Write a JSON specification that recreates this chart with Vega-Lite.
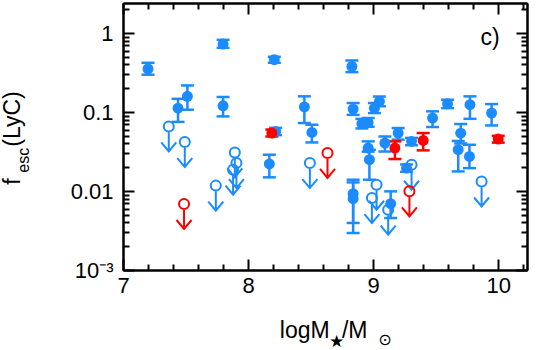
{
  "$schema": "https://vega.github.io/schema/vega-lite/v6.json",
  "width": 404,
  "height": 267,
  "autosize": {"type": "none"},
  "padding": {"left": 123, "top": 3, "right": 11, "bottom": 80},
  "background": "white",
  "config": {
    "view": {"stroke": null},
    "axis": {"domainColor": "black", "domainWidth": 2, "tickColor": "black", "tickWidth": 2, "labelFont": "Liberation Sans", "labelFontSize": 22, "labelColor": "black", "grid": false, "labelOverlap": false, "labelFlush": false, "title": null}
  },
  "datasets": {
    "pts": [
      {"x": 7.2, "y": 0.353, "lo": 0.297, "hi": 0.42, "g": "blue"},
      {"x": 7.44, "y": 0.112, "lo": 0.075, "hi": 0.147, "g": "blue"},
      {"x": 7.515, "y": 0.158, "lo": 0.107, "hi": 0.217, "g": "blue"},
      {"x": 7.8, "y": 0.726, "lo": 0.65, "hi": 0.82, "g": "blue"},
      {"x": 7.8, "y": 0.12, "lo": 0.088, "hi": 0.155, "g": "blue"},
      {"x": 8.21, "y": 0.459, "lo": 0.42, "hi": 0.5, "g": "blue"},
      {"x": 8.83, "y": 0.378, "lo": 0.32, "hi": 0.45, "g": "blue"},
      {"x": 8.45, "y": 0.116, "lo": 0.0726, "hi": 0.158, "g": "blue"},
      {"x": 8.51, "y": 0.0552, "lo": 0.0412, "hi": 0.069, "g": "blue"},
      {"x": 8.22, "y": 0.0568, "lo": 0.051, "hi": 0.063, "g": "blue"},
      {"x": 8.17, "y": 0.022, "lo": 0.0149, "hi": 0.0288, "g": "blue"},
      {"x": 8.84, "y": 0.109, "lo": 0.092, "hi": 0.13, "g": "blue"},
      {"x": 8.91, "y": 0.0711, "lo": 0.062, "hi": 0.082, "g": "blue"},
      {"x": 8.96, "y": 0.0738, "lo": 0.065, "hi": 0.084, "g": "blue"},
      {"x": 9.01, "y": 0.112, "lo": 0.097, "hi": 0.13, "g": "blue"},
      {"x": 9.05, "y": 0.136, "lo": 0.118, "hi": 0.157, "g": "blue"},
      {"x": 8.84, "y": 0.00925, "lo": 0.00394, "hi": 0.0139, "g": "blue"},
      {"x": 8.84, "y": 0.008, "lo": 0.00294, "hi": 0.01285, "g": "blue"},
      {"x": 8.96, "y": 0.035, "lo": 0.0315, "hi": 0.0425, "g": "blue"},
      {"x": 8.97, "y": 0.0249, "lo": 0.0139, "hi": 0.0333, "g": "blue"},
      {"x": 9.094, "y": 0.0405, "lo": 0.0316, "hi": 0.049, "g": "blue"},
      {"x": 9.2, "y": 0.0542, "lo": 0.0447, "hi": 0.0627, "g": "blue"},
      {"x": 9.307, "y": 0.0425, "lo": 0.038, "hi": 0.047, "g": "blue"},
      {"x": 9.267, "y": 0.0195, "lo": 0.0175, "hi": 0.0217, "g": "blue"},
      {"x": 9.475, "y": 0.084, "lo": 0.0646, "hi": 0.102, "g": "blue"},
      {"x": 9.595, "y": 0.127, "lo": 0.112, "hi": 0.143, "g": "blue"},
      {"x": 9.774, "y": 0.124, "lo": 0.082, "hi": 0.158, "g": "blue"},
      {"x": 9.947, "y": 0.097, "lo": 0.0676, "hi": 0.126, "g": "blue"},
      {"x": 9.7, "y": 0.054, "lo": 0.04, "hi": 0.0705, "g": "blue"},
      {"x": 9.68, "y": 0.0333, "lo": 0.0177, "hi": 0.043, "g": "blue"},
      {"x": 9.77, "y": 0.0274, "lo": 0.0195, "hi": 0.0385, "g": "blue"},
      {"x": 9.14, "y": 0.0069, "lo": 0.00455, "hi": 0.0099, "g": "blue"},
      {"x": 8.19, "y": 0.0542, "lo": 0.049, "hi": 0.06, "g": "red"},
      {"x": 9.174, "y": 0.035, "lo": 0.0254, "hi": 0.0425, "g": "red"},
      {"x": 9.4, "y": 0.0437, "lo": 0.0327, "hi": 0.0542, "g": "red"},
      {"x": 10.0, "y": 0.0455, "lo": 0.041, "hi": 0.05, "g": "red"}
    ],
    "lims": [
      {"x": 7.366, "y": 0.0657, "g": "blue"},
      {"x": 7.494, "y": 0.0417, "g": "blue"},
      {"x": 7.742, "y": 0.0117, "g": "blue"},
      {"x": 7.894, "y": 0.0308, "g": "blue"},
      {"x": 7.907, "y": 0.0226, "g": "blue"},
      {"x": 7.88, "y": 0.0186, "g": "blue"},
      {"x": 8.494, "y": 0.0226, "g": "blue"},
      {"x": 9.027, "y": 0.012, "g": "blue"},
      {"x": 8.99, "y": 0.00815, "g": "blue"},
      {"x": 9.12, "y": 0.0058, "g": "blue"},
      {"x": 9.307, "y": 0.0215, "g": "blue"},
      {"x": 9.867, "y": 0.0132, "g": "blue"},
      {"x": 7.488, "y": 0.00685, "g": "red"},
      {"x": 8.635, "y": 0.0303, "g": "red"},
      {"x": 9.29, "y": 0.0099, "g": "red"}
    ]
  },
  "resolve": {"axis": {"x": "independent", "y": "independent"}},
  "layer": [
    {
      "data": {"name": "pts"},
      "mark": {"type": "errorbar", "thickness": 2.5, "opacity": 1, "rule": {"opacity": 1}, "ticks": {"size": 13, "thickness": 2.5, "opacity": 1}},
      "encoding": {
        "x": {"field": "x", "type": "quantitative", "scale": {"domain": [7, 10.23], "nice": false, "zero": false}, "axis": null},
        "y": {"field": "lo", "type": "quantitative", "scale": {"type": "log", "domain": [0.001, 2.4], "nice": false}, "axis": null},
        "y2": {"field": "hi"},
        "color": {"field": "g", "type": "nominal", "scale": {"domain": ["blue", "red"], "range": ["#1a8cff", "#ff0000"]}, "legend": null}
      }
    },
    {
      "data": {"name": "pts"},
      "mark": {"type": "point", "shape": "circle", "filled": true, "opacity": 1, "size": 120},
      "encoding": {
        "x": {"field": "x", "type": "quantitative", "scale": {"domain": [7, 10.23], "nice": false, "zero": false},
              "axis": {"orient": "bottom", "values": [7, 8, 9, 10], "tickSize": -11, "labelPadding": 16}},
        "y": {"field": "y", "type": "quantitative", "scale": {"type": "log", "domain": [0.001, 2.4], "nice": false},
              "axis": {"orient": "left", "values": [0.001, 0.01, 0.1, 1], "tickSize": -11, "labelPadding": 21,
                       "labelExpr": "datum.value > 0.5 ? '1' : datum.value > 0.05 ? '0.1' : datum.value > 0.005 ? '0.01' : '10⁻³'"}},
        "color": {"field": "g", "type": "nominal", "scale": {"domain": ["blue", "red"], "range": ["#1a8cff", "#ff0000"]}, "legend": null}
      }
    },
    {
      "data": {"name": "lims"},
      "mark": {"type": "point", "shape": "M0,-1A1,1,0,1,1,0,1A1,1,0,1,1,0,-1M0,1L0,5M-1.5,3.2L0,5L1.5,3.2", "filled": false, "opacity": 1, "size": 100, "strokeWidth": 2},
      "encoding": {
        "x": {"field": "x", "type": "quantitative", "scale": {"domain": [7, 10.23], "nice": false, "zero": false},
              "axis": {"orient": "bottom", "values": [7.2, 7.4, 7.6, 7.8, 8.2, 8.4, 8.6, 8.8, 9.2, 9.4, 9.6, 9.8, 10.2], "tickSize": -6, "labels": false}},
        "y": {"field": "y", "type": "quantitative", "scale": {"type": "log", "domain": [0.001, 2.4], "nice": false},
              "axis": {"orient": "left", "values": [0.002, 0.003, 0.004, 0.005, 0.006, 0.007, 0.008, 0.009, 0.02, 0.03, 0.04, 0.05, 0.06, 0.07, 0.08, 0.09, 0.2, 0.3, 0.4, 0.5, 0.6, 0.7, 0.8, 0.9, 2], "tickSize": -6, "labels": false}},
        "color": {"field": "g", "type": "nominal", "scale": {"domain": ["blue", "red"], "range": ["#1a8cff", "#ff0000"]}, "legend": null}
      }
    },
    {
      "data": {"name": "pts"},
      "mark": {"type": "point", "opacity": 0},
      "encoding": {
        "x": {"field": "x", "type": "quantitative", "scale": {"domain": [7, 10.23], "nice": false, "zero": false},
              "axis": {"orient": "top", "values": [7, 8, 9, 10], "tickSize": -11, "labels": false}},
        "y": {"field": "y", "type": "quantitative", "scale": {"type": "log", "domain": [0.001, 2.4], "nice": false},
              "axis": {"orient": "right", "values": [0.001, 0.01, 0.1, 1], "tickSize": -11, "labels": false}}
      }
    },
    {
      "data": {"name": "pts"},
      "mark": {"type": "point", "opacity": 0},
      "encoding": {
        "x": {"field": "x", "type": "quantitative", "scale": {"domain": [7, 10.23], "nice": false, "zero": false},
              "axis": {"orient": "top", "values": [7.2, 7.4, 7.6, 7.8, 8.2, 8.4, 8.6, 8.8, 9.2, 9.4, 9.6, 9.8, 10.2], "tickSize": -6, "labels": false}},
        "y": {"field": "y", "type": "quantitative", "scale": {"type": "log", "domain": [0.001, 2.4], "nice": false},
              "axis": {"orient": "right", "values": [0.002, 0.003, 0.004, 0.005, 0.006, 0.007, 0.008, 0.009, 0.02, 0.03, 0.04, 0.05, 0.06, 0.07, 0.08, 0.09, 0.2, 0.3, 0.4, 0.5, 0.6, 0.7, 0.8, 0.9, 2], "tickSize": -6, "labels": false}}
      }
    },
    {
      "data": {"values": [{}]},
      "mark": {"type": "text", "text": "c)", "font": "Liberation Sans", "fontSize": 23, "align": "center", "baseline": "alphabetic", "color": "black"},
      "encoding": {
        "x": {"datum": 9.934, "type": "quantitative", "scale": {"domain": [7, 10.23], "nice": false, "zero": false}, "axis": null},
        "y": {"datum": 0.711, "type": "quantitative", "scale": {"type": "log", "domain": [0.001, 2.4], "nice": false}, "axis": null}
      }
    },
    {
      "data": {"values": [{}]},
      "mark": {"type": "text", "text": "f", "font": "Liberation Sans", "fontSize": 23, "angle": 270, "align": "left", "baseline": "alphabetic", "color": "black"},
      "encoding": {
        "x": {"datum": 6.174, "type": "quantitative", "scale": {"domain": [7, 10.23], "nice": false, "zero": false}, "axis": null},
        "y": {"datum": 0.01203, "type": "quantitative", "scale": {"type": "log", "domain": [0.001, 2.4], "nice": false}, "axis": null}
      }
    },
    {
      "data": {"values": [{}]},
      "mark": {"type": "text", "text": "esc", "font": "Liberation Sans", "fontSize": 16, "angle": 270, "align": "left", "baseline": "alphabetic", "color": "black"},
      "encoding": {
        "x": {"datum": 6.246, "type": "quantitative", "scale": {"domain": [7, 10.23], "nice": false, "zero": false}, "axis": null},
        "y": {"datum": 0.01706, "type": "quantitative", "scale": {"type": "log", "domain": [0.001, 2.4], "nice": false}, "axis": null}
      }
    },
    {
      "data": {"values": [{}]},
      "mark": {"type": "text", "text": "(LyC)", "font": "Liberation Sans", "fontSize": 23, "angle": 270, "align": "left", "baseline": "alphabetic", "color": "black"},
      "encoding": {
        "x": {"datum": 6.174, "type": "quantitative", "scale": {"domain": [7, 10.23], "nice": false, "zero": false}, "axis": null},
        "y": {"datum": 0.0364, "type": "quantitative", "scale": {"type": "log", "domain": [0.001, 2.4], "nice": false}, "axis": null}
      }
    },
    {
      "data": {"values": [{}]},
      "mark": {"type": "text", "text": "logM", "font": "Liberation Sans", "fontSize": 23, "align": "left", "baseline": "alphabetic", "color": "black"},
      "encoding": {
        "x": {"datum": 8.254, "type": "quantitative", "scale": {"domain": [7, 10.23], "nice": false, "zero": false}, "axis": null},
        "y": {"datum": 0.000139, "type": "quantitative", "scale": {"type": "log", "domain": [0.001, 2.4], "nice": false}, "axis": null}
      }
    },
    {
      "data": {"values": [{}]},
      "mark": {"type": "text", "text": "★", "font": "DejaVu Sans", "fontSize": 17, "align": "left", "baseline": "alphabetic", "color": "black"},
      "encoding": {
        "x": {"datum": 8.646, "type": "quantitative", "scale": {"domain": [7, 10.23], "nice": false, "zero": false}, "axis": null},
        "y": {"datum": 0.000107, "type": "quantitative", "scale": {"type": "log", "domain": [0.001, 2.4], "nice": false}, "axis": null}
      }
    },
    {
      "data": {"values": [{}]},
      "mark": {"type": "text", "text": "/M", "font": "Liberation Sans", "fontSize": 23, "align": "left", "baseline": "alphabetic", "color": "black"},
      "encoding": {
        "x": {"datum": 8.75, "type": "quantitative", "scale": {"domain": [7, 10.23], "nice": false, "zero": false}, "axis": null},
        "y": {"datum": 0.000139, "type": "quantitative", "scale": {"type": "log", "domain": [0.001, 2.4], "nice": false}, "axis": null}
      }
    },
    {
      "data": {"values": [{}]},
      "mark": {"type": "text", "text": "⊙", "font": "DejaVu Sans", "fontSize": 16, "align": "left", "baseline": "alphabetic", "color": "black"},
      "encoding": {
        "x": {"datum": 9.04, "type": "quantitative", "scale": {"domain": [7, 10.23], "nice": false, "zero": false}, "axis": null},
        "y": {"datum": 0.000112, "type": "quantitative", "scale": {"type": "log", "domain": [0.001, 2.4], "nice": false}, "axis": null}
      }
    }
  ]
}
